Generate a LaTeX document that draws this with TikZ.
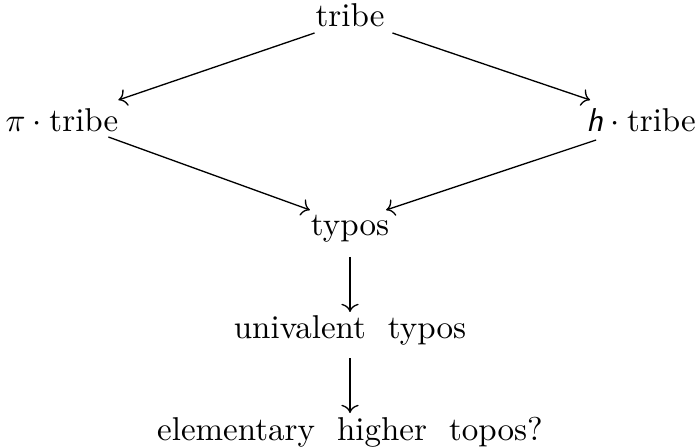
\documentclass[tikz,border=0pt]{standalone}
\usetikzlibrary{arrows.meta}
\begin{document}
\begin{tikzpicture}[x=0.3029pt,y=-0.3029pt,
  lbl/.style={anchor=base,inner sep=0pt,outer sep=0pt},
  arr/.style={-{Computer Modern Rightarrow},line width=0.4pt}]
\useasboundingbox (0,0) rectangle (700,447);
\node[lbl] (t) at (350,27) {tribe};
\node[lbl] (p) at (62,132) {$\pi\cdot{}$tribe};
\node[lbl] (h) at (641,132) {$\textsf{\textsl{h}}\cdot{}$tribe};
\node[lbl] (ty) at (350,236) {typos};
\node[lbl] (u) at (350,338) {univalent\ \ typos};
\node[lbl] (e) at (350,440) {elementary\ \ higher\ \ topos?};
\draw[arr] ([shift={(-1,6)}]t.base west) -- ([shift={(0,-32)}]p.base east);
\draw[arr] ([shift={(8,6)}]t.base east) -- ([shift={(4,-32)}]h.base west);
\draw[arr] ([shift={(-10,5)}]p.base east) -- ([shift={(-1,-26)}]ty.base west);
\draw[arr] ([shift={(10,8)}]h.base west) -- ([shift={(-3,-26)}]ty.base east);
\draw[arr] ([shift={(0,21)}]ty.base) -- ([shift={(0,-26)}]u.base);
\draw[arr] ([shift={(0,20)}]u.base) -- ([shift={(0,-27)}]e.base);
\end{tikzpicture}
\end{document}
